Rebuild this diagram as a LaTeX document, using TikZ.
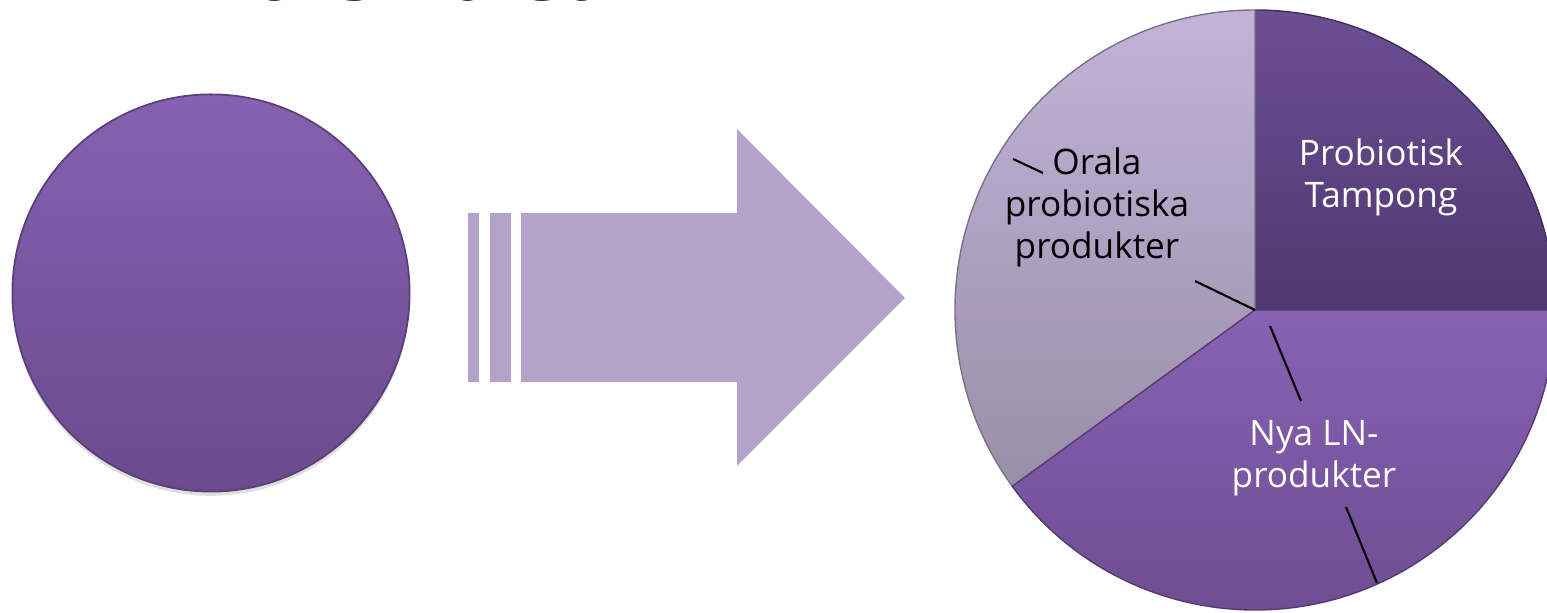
\documentclass[tikz,border=0pt]{standalone}
\usepackage{fontspec}
\setmainfont{Open Sans}
\usetikzlibrary{shadows}
\definecolor{circtop}{HTML}{8661B1}
\definecolor{circbot}{HTML}{6A4A8D}
\definecolor{arrowfill}{HTML}{B3A3C8}
\definecolor{tampongtop}{HTML}{6C4E93}
\definecolor{tampongbot}{HTML}{4F3870}
\definecolor{oralatop}{HTML}{C2B3D8}
\definecolor{oralabot}{HTML}{9A8EA8}
\definecolor{nyatop}{HTML}{8862B3}
\definecolor{nyabot}{HTML}{6A4A8E}

\begin{document}
\begin{tikzpicture}[
    x=0.01cm, y=0.01cm,
    slicetext/.style={align=center, inner sep=0pt, font=\fontsize{10}{11.95}\selectfont},
    lead/.style={black, line width=0.6pt},
    soft/.style={drop shadow={opacity=0.25, shadow xshift=0pt, shadow yshift=-1.2pt}},
    ]
    \useasboundingbox (0,0) rectangle (1547,613);
    \clip (0,0) rectangle (1547,613);
    \node[anchor=base west, inner sep=0pt, font=\bfseries\fontsize{23}{27}\selectfont] (title) at (22,612) {kvinnors hälsa};
    \node[circle, minimum size=3.97cm, inner sep=0pt, top color=circtop, bottom color=circbot, draw=circbot!85!black, line width=0.5pt, soft] (start) at (211,320) {};
    \fill[arrowfill] (468,231) rectangle (479,400);
    \fill[arrowfill] (490,231) rectangle (511,400);
    \fill[arrowfill] (521,231) -- (521,400) -- (737,400) -- (737,484) -- (905,315) -- (737,147) -- (737,231) -- cycle;
    \coordinate (mid) at (1255,303);
    \shade[top color=tampongtop, bottom color=tampongbot, draw=tampongbot!80!black, line width=0.4pt] (mid) -- ++(0:300) arc[start angle=0, end angle=90, radius=300] -- cycle;
    \shade[top color=oralatop, bottom color=oralabot, draw=oralabot!80!black, line width=0.4pt] (mid) -- ++(90:300) arc[start angle=90, end angle=216, radius=300] -- cycle;
    \shade[top color=nyatop, bottom color=nyabot, draw=nyabot!80!black, line width=0.4pt] (mid) -- ++(216:300) arc[start angle=216, end angle=360, radius=300] -- cycle;
    \node[slicetext, text=white] (tampong) at (1381,436) {Probiotisk\\Tampong};
    \node[slicetext, text=black] (orala) at (1097,406) {Orala\\probiotiska\\produkter};
    \node[slicetext, text=white] (nyaln) at (1314,155) {Nya LN-\\produkter};
    \coordinate (oralatick) at (1013,454);
    \coordinate (oralalead) at (1195,332);
    \coordinate (nyatop) at (1270,287);
    \coordinate (nyalead) at (1301,212);
    \coordinate (nyabot) at (1346,106);
    \coordinate (nyarim) at (1377,30);
    \draw[lead] (oralatick) -- (1043,440);
    \draw[lead] (oralalead) -- (mid);
    \draw[lead] (nyatop) -- (nyalead);
    \draw[lead] (nyabot) -- (nyarim);
\end{tikzpicture}
\end{document}
